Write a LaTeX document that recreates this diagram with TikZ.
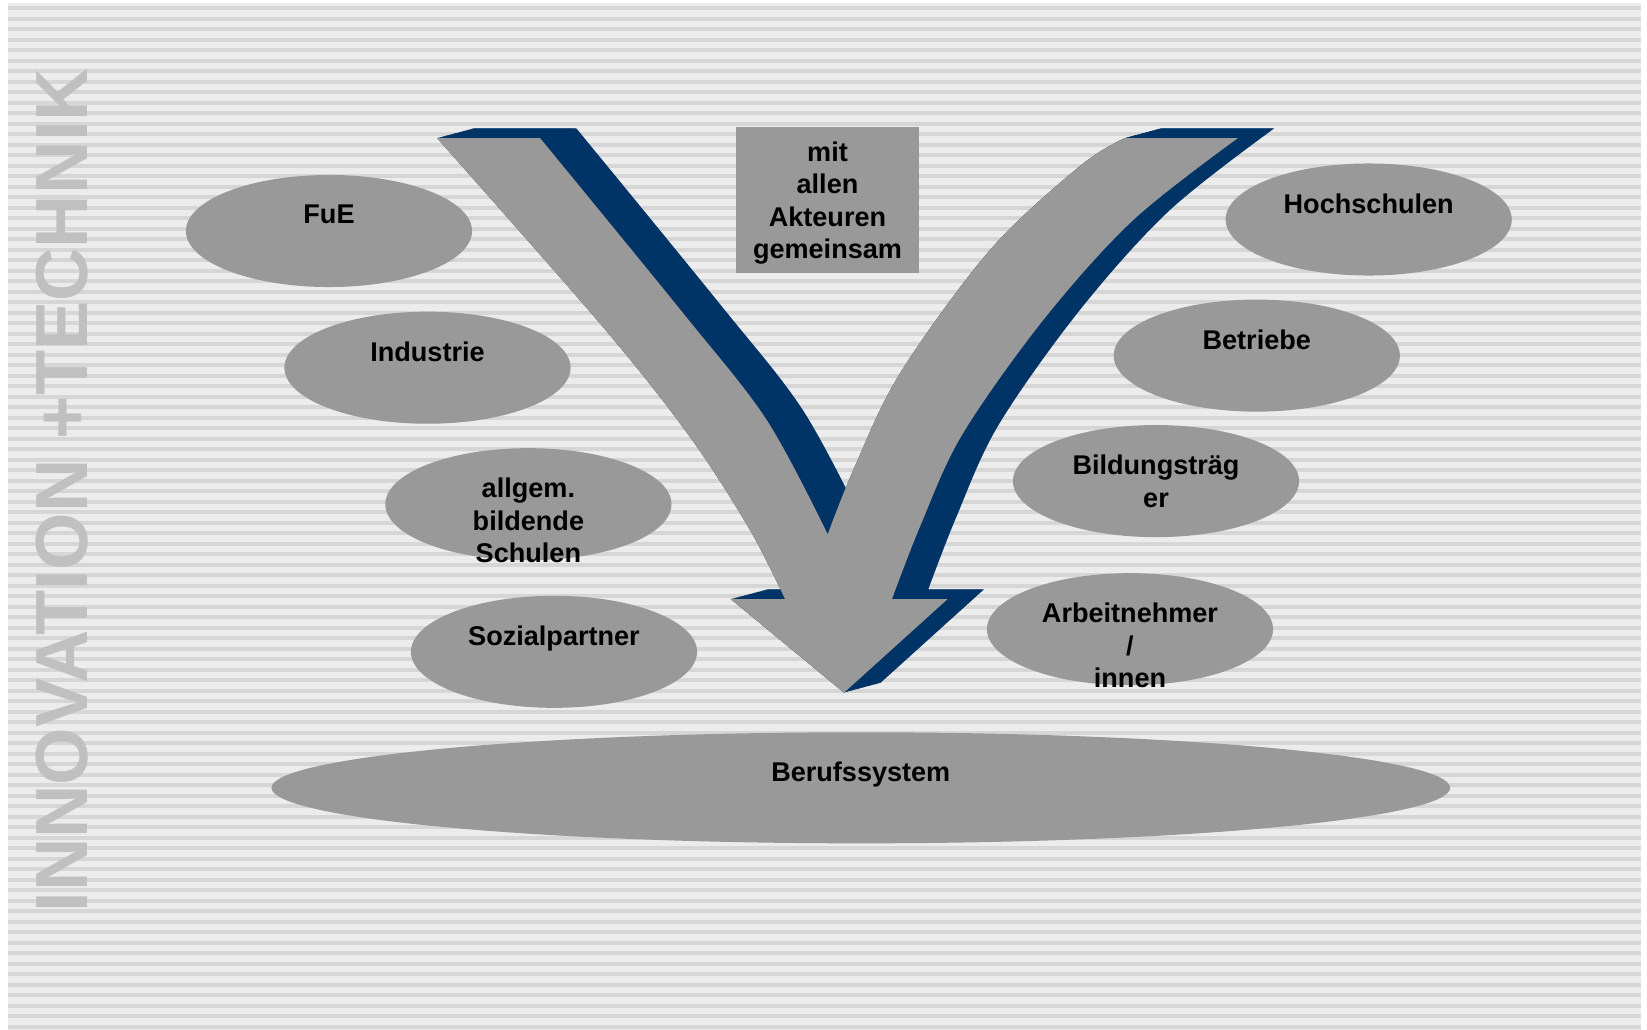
\documentclass[tikz,border=0pt]{standalone}
\usepackage{fontspec}
\setmainfont{Liberation Sans}
\usepackage{tikz}
\usetikzlibrary{shapes,positioning}
\usepackage{xcolor}
\definecolor{ivgray}{RGB}{153,153,153}
\definecolor{ivnavy}{RGB}{0,51,102}
\definecolor{ivletter}{RGB}{192,192,192}
\definecolor{ivstripelight}{RGB}{236,236,236}
\definecolor{ivstripedark}{RGB}{214,214,214}
\tikzstyle{actor} = [ellipse, fill=ivgray, minimum width=2.86cm, minimum height=1.12cm, inner sep=0pt]
\tikzstyle{caption} = [font=\bfseries\fontsize{7.7}{9.2}\selectfont, align=center, inner sep=0pt, text=black]
\tikzstyle{stripe} = [fill=ivstripedark]
% outline of the V arrow (pixel units)
\newcommand{\varrow}{(437,138) -- (540,138)
  -- plot[smooth, tension=0.55] coordinates {(540,138) (683,313) (766.7,420) (827.7,534.3)}
  -- plot[smooth, tension=0.55] coordinates {(827.7,534.3) (853.3,470) (900,373.3) (990,250) (1080,166) (1125,138)}
  -- (1238,138)
  -- plot[smooth, tension=0.55] coordinates {(1238,138) (1133.3,220) (1043.3,320) (962,435) (920,526.7) (892,599)}
  -- (947.7,599) -- (844,692.7) -- (730.7,599) -- (785,599)
  -- plot[smooth, tension=0.55] coordinates {(785,599) (750,530) (690,437) (603,327) (437,138)}
  -- cycle}

\begin{document}
\begin{tikzpicture}[x=0.01cm, y=-0.01cm]
\useasboundingbox (0,0) rectangle (1647,1030);

% Striped background
\fill[ivstripelight] (8,3) rectangle (1641,1030);
\foreach \k in {0,...,97}
  \fill[stripe] (8,{6+\k*10.5}) rectangle (1641,{10+\k*10.5});

% Side lettering
\node[font=\bfseries\fontsize{21}{21}\selectfont, text=ivletter, rotate=90, inner sep=0pt] (brand) at (62,490) {INNOVATION +TECHNIK};

% V arrow with its navy extrusion
\foreach \i in {0,...,30}
  \fill[ivnavy, shift={(1.21*\i,-0.323*\i)}] \varrow;
\fill[ivgray] \varrow;

% Box in the middle
\node[fill=ivgray, minimum width=1.83cm, minimum height=1.46cm, inner sep=0pt] (box) at (827.5,200) {};
\node[caption, below=0.15cm of box.north] (boxtext) {mit\\allen\\Akteuren\\gemeinsam};

% Actors on the left
\node[actor] (fue) at (329,231) {};
\node[actor] (ind) at (427.5,367.7) {};
\node[actor] (schule) at (528.4,504.2) {};
\node[actor] (sozial) at (554,651.8) {};

% Actors on the right
\node[actor] (hoch) at (1368.7,219.5) {};
\node[actor] (betr) at (1256.8,355.6) {};
\node[actor] (bild) at (1156,481.1) {};
\node[actor] (arbn) at (1130,629.2) {};

% Base
\node[actor, minimum width=11.78cm, minimum height=1.11cm] (beruf) at (860.8,787.8) {};

% Labels
\node[caption, below=0.30cm of fue.north] (fuetext) {FuE};
\node[caption, below=0.30cm of ind.north] (indtext) {Industrie};
\node[caption, below=0.30cm of schule.north] (schuletext) {allgem.\\bildende\\Schulen};
\node[caption, below=0.30cm of sozial.north] (sozialtext) {Sozialpartner};
\node[caption, below=0.30cm of hoch.north] (hochtext) {Hochschulen};
\node[caption, below=0.30cm of betr.north] (betrtext) {Betriebe};
\node[caption, below=0.30cm of bild.north] (bildtext) {Bildungsträg\\er};
\node[caption, below=0.30cm of arbn.north] (arbntext) {Arbeitnehmer\\/\\innen};
\node[caption, below=0.30cm of beruf.north] (berufText) {Berufssystem};
\end{tikzpicture}
\end{document}
